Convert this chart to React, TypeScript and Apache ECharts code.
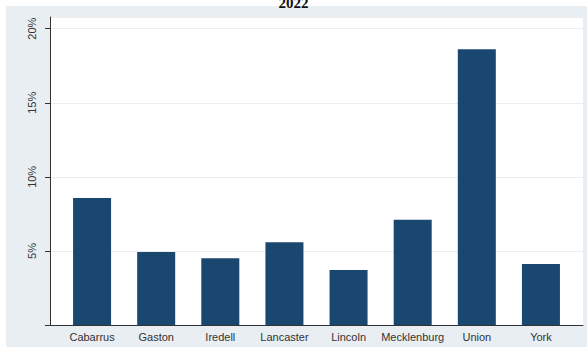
import React, { useEffect, useRef } from "react";
import * as echarts from "echarts";

const categories = ["Cabarrus", "Gaston", "Iredell", "Lancaster", "Lincoln", "Mecklenburg", "Union", "York"];
const shares = [8.57, 4.93, 4.5, 5.58, 3.72, 7.11, 18.61, 4.12];
const yTicks = [0, 5, 10, 15, 20];
const titleText = "2022";

export default function App() {
  const ref = useRef<HTMLDivElement>(null);
  useEffect(() => {
    if (!ref.current) return;
    const chart = echarts.init(ref.current, undefined, { renderer: "svg" });
    const yMax = 20.79;
    chart.setOption({
      animation: false,
      backgroundColor: "#ffffff",
      title: {
        text: titleText,
        left: "center",
        top: -10,
        textStyle: { fontFamily: "Liberation Serif", fontWeight: "bold", fontSize: 15, color: "#111" },
      },
      graphic: [
        {
          type: "rect",
          left: 6,
          top: 6,
          shape: { width: 581, height: 341 },
          style: { fill: "#e9eef2" },
          z: -10,
        },
      ],
      grid: [
        { left: 50, top: 17, width: 533, height: 308, show: true, backgroundColor: "#ffffff", borderWidth: 0 },
        { left: 60, top: 17, width: 513, height: 308, show: false },
      ],
      xAxis: [
        {
          gridIndex: 0,
          type: "category",
          data: [""],
          axisLine: { show: true, lineStyle: { color: "#333", width: 1 } },
          axisTick: { show: false },
          axisLabel: { show: false },
        },
        {
          gridIndex: 1,
          type: "category",
          data: categories,
          axisLine: { show: false },
          axisTick: { show: false },
          axisLabel: {
            color: "#333",
            fontFamily: "Liberation Sans",
            fontSize: 11,
            margin: 6,
            interval: 0,
          },
        },
      ],
      yAxis: [
        {
          gridIndex: 0,
          type: "value",
          min: 0,
          max: yMax,
          interval: 5,
          axisLine: { show: true, lineStyle: { color: "#333", width: 1 } },
          axisTick: { show: true, length: 5, lineStyle: { color: "#333" } },
          splitLine: { show: true, lineStyle: { color: "#ececec", width: 1 } },
          axisLabel: {
            rotate: 90,
            showMaxLabel: false,
            color: "#333",
            fontFamily: "Liberation Sans",
            fontSize: 11,
            margin: 13,
            formatter: (v: number) => (yTicks.includes(v) && v !== 0 ? `${v}%` : ""),
          },
        },
        {
          gridIndex: 1,
          type: "value",
          min: 0,
          max: yMax,
          show: false,
          splitLine: { show: false },
        },
      ],
      series: [
        {
          type: "bar",
          xAxisIndex: 1,
          yAxisIndex: 1,
          data: shares,
          barWidth: 38,
          itemStyle: { color: "#1a476f" },
        },
      ],
    });
    return () => chart.dispose();
  }, []);
  return <div ref={ref} style={{ position: "absolute", left: 0, top: 0, width: 587, height: 347 }} />;
}
